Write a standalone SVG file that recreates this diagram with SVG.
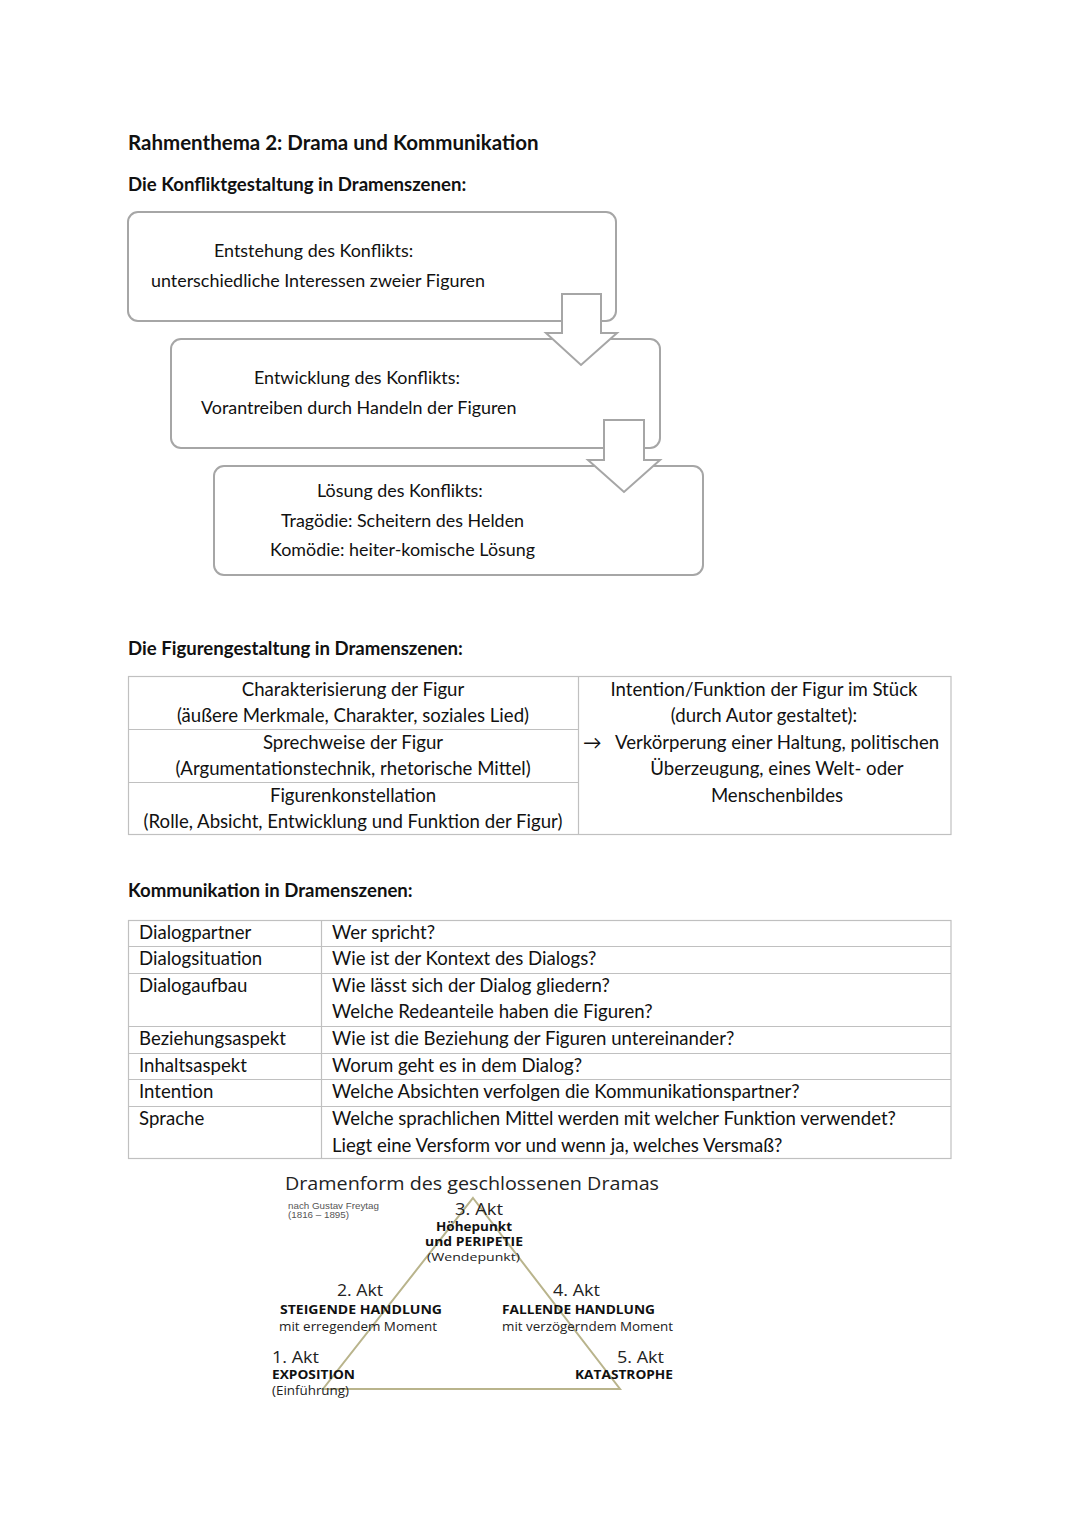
<svg xmlns="http://www.w3.org/2000/svg" width="1080" height="1527" viewBox="0 0 1080 1527">
<style>
.t{font-family:Lato,"Open Sans","Liberation Sans",sans-serif;font-size:18.6px;fill:#111}
.tb{font-family:Lato,"Open Sans","Liberation Sans",sans-serif;font-size:17.9px;fill:#111}
.h{font-family:Lato,"Open Sans","Liberation Sans",sans-serif;font-size:18.6px;font-weight:bold;fill:#111}
.h1{font-family:Lato,"Open Sans","Liberation Sans",sans-serif;font-size:20.5px;font-weight:bold;fill:#111}
.c{text-anchor:middle}
.box{fill:#fff;stroke:#a6a6a6;stroke-width:2}
.arr{fill:#fff;stroke:#a6a6a6;stroke-width:2;stroke-linejoin:miter}
.grid{stroke:#c0c0c0;stroke-width:1.2;fill:none}
.tri{fill:none;stroke:#b9b48c;stroke-width:2}
.d{font-family:"Open Sans","Liberation Sans",sans-serif;fill:#222}
.db{font-family:"Open Sans","Liberation Sans",sans-serif;font-weight:bold;fill:#111}
.ak{font-size:16px}
.s{font-size:12.5px}
.x{font-size:11.5px}
.sm{font-family:"Liberation Sans",Arial,sans-serif;font-size:9.8px;fill:#555}
</style>
<rect width="1080" height="1527" fill="#fff"/>
<text class="h1" x="128" y="150">Rahmenthema 2: Drama und Kommunikation</text>
<text class="h" x="128" y="191">Die Konfliktgestaltung in Dramenszenen:</text>

<g id="box1">
<rect class="box" x="128" y="212" width="488" height="109" rx="10"/>
<text class="tb" x="214" y="257">Entstehung des Konflikts:</text>
<text class="tb" x="151" y="287">unterschiedliche Interessen zweier Figuren</text>
</g>
<g id="box2">
<rect class="box" x="171" y="339" width="489" height="109" rx="10"/>
<text class="tb" x="254" y="384">Entwicklung des Konflikts:</text>
<text class="tb" x="201" y="414">Vorantreiben durch Handeln der Figuren</text>
</g>
<g id="box3">
<rect class="box" x="214" y="466" width="489" height="109" rx="10"/>
<text class="tb" x="317" y="497">Lösung des Konflikts:</text>
<text class="tb" x="281" y="527">Tragödie: Scheitern des Helden</text>
<text class="tb" x="270" y="556">Komödie: heiter-komische Lösung</text>
</g>
<g id="connectors">
<polygon class="arr" points="562,294 601,294 601,333 617,333 581,365 546,333 562,333"/>
<polygon class="arr" points="604,420 644,420 644,460 660,460 624,492 588,460 604,460"/>
</g>

<text class="h" x="128" y="655">Die Figurengestaltung in Dramenszenen:</text>
<g id="figuren-table">
<rect class="grid" x="128.5" y="676.5" width="822.5" height="158"/>
<line class="grid" x1="578.5" y1="676.5" x2="578.5" y2="834.5"/>
<line class="grid" x1="128.5" y1="729.5" x2="578.5" y2="729.5"/>
<line class="grid" x1="128.5" y1="782.5" x2="578.5" y2="782.5"/>
<text class="t c" x="353" y="696">Charakterisierung der Figur</text>
<text class="t c" x="353" y="722">(äußere Merkmale, Charakter, soziales Lied)</text>
<text class="t c" x="353" y="749">Sprechweise der Figur</text>
<text class="t c" x="353" y="775">(Argumentationstechnik, rhetorische Mittel)</text>
<text class="t c" x="353" y="802">Figurenkonstellation</text>
<text class="t c" x="353" y="828">(Rolle, Absicht, Entwicklung und Funktion der Figur)</text>
<text class="t c" x="764" y="696">Intention/Funktion der Figur im Stück</text>
<text class="t c" x="764" y="722">(durch Autor gestaltet):</text>
<text class="t" x="583" y="749" font-size="15">→</text>
<text class="t" x="615" y="749">Verkörperung einer Haltung, politischen</text>
<text class="t c" x="777" y="775">Überzeugung, eines Welt- oder</text>
<text class="t c" x="777" y="802">Menschenbildes</text>
</g>

<text class="h" x="128" y="897">Kommunikation in Dramenszenen:</text>
<g id="kommunikation-table">
<rect class="grid" x="128.5" y="920.5" width="822.5" height="238"/>
<line class="grid" x1="321.5" y1="920.5" x2="321.5" y2="1158.5"/>
<line class="grid" x1="128.5" y1="946.5" x2="951" y2="946.5"/>
<line class="grid" x1="128.5" y1="973.5" x2="951" y2="973.5"/>
<line class="grid" x1="128.5" y1="1026.5" x2="951" y2="1026.5"/>
<line class="grid" x1="128.5" y1="1053.5" x2="951" y2="1053.5"/>
<line class="grid" x1="128.5" y1="1079.5" x2="951" y2="1079.5"/>
<line class="grid" x1="128.5" y1="1106.5" x2="951" y2="1106.5"/>
<text class="t" x="139" y="939">Dialogpartner</text>
<text class="t" x="332" y="939">Wer spricht?</text>
<text class="t" x="139" y="965">Dialogsituation</text>
<text class="t" x="332" y="965">Wie ist der Kontext des Dialogs?</text>
<text class="t" x="139" y="992">Dialogaufbau</text>
<text class="t" x="332" y="992">Wie lässt sich der Dialog gliedern?</text>
<text class="t" x="332" y="1018">Welche Redeanteile haben die Figuren?</text>
<text class="t" x="139" y="1045">Beziehungsaspekt</text>
<text class="t" x="332" y="1045">Wie ist die Beziehung der Figuren untereinander?</text>
<text class="t" x="139" y="1072">Inhaltsaspekt</text>
<text class="t" x="332" y="1072">Worum geht es in dem Dialog?</text>
<text class="t" x="139" y="1098">Intention</text>
<text class="t" x="332" y="1098">Welche Absichten verfolgen die Kommunikationspartner?</text>
<text class="t" x="139" y="1125">Sprache</text>
<text class="t" x="332" y="1125">Welche sprachlichen Mittel werden mit welcher Funktion verwendet?</text>
<text class="t" x="332" y="1152">Liegt eine Versform vor und wenn ja, welches Versmaß?</text>
</g>

<g id="freytag">
<polygon class="tri" points="473,1198 620,1389 323,1389"/>
<text class="d" x="285" y="1190" font-size="17.5" textLength="374" lengthAdjust="spacingAndGlyphs">Dramenform des geschlossenen Dramas</text>
<text class="sm" x="288" y="1209">nach Gustav Freytag</text>
<text class="sm" x="288" y="1218">(1816 – 1895)</text>
<text class="d ak" x="455" y="1215" textLength="48" lengthAdjust="spacingAndGlyphs">3. Akt</text>
<text class="db x" x="436" y="1231" textLength="76" lengthAdjust="spacingAndGlyphs">Höhepunkt</text>
<text class="db x" x="425" y="1246" textLength="98" lengthAdjust="spacingAndGlyphs">und PERIPETIE</text>
<text class="d x" x="427" y="1261" textLength="93" lengthAdjust="spacingAndGlyphs">(Wendepunkt)</text>
<text class="d ak" x="337" y="1296" textLength="46" lengthAdjust="spacingAndGlyphs">2. Akt</text>
<text class="db s" x="280" y="1314" textLength="162" lengthAdjust="spacingAndGlyphs">STEIGENDE HANDLUNG</text>
<text class="d s" x="279" y="1331" textLength="158" lengthAdjust="spacingAndGlyphs">mit erregendem Moment</text>
<text class="d ak" x="553" y="1296" textLength="47" lengthAdjust="spacingAndGlyphs">4. Akt</text>
<text class="db s" x="502" y="1314" textLength="153" lengthAdjust="spacingAndGlyphs">FALLENDE HANDLUNG</text>
<text class="d s" x="502" y="1331" textLength="171" lengthAdjust="spacingAndGlyphs">mit verzögerndem Moment</text>
<text class="d ak" x="272" y="1363" textLength="47" lengthAdjust="spacingAndGlyphs">1. Akt</text>
<text class="db s" x="272" y="1379" textLength="83" lengthAdjust="spacingAndGlyphs">EXPOSITION</text>
<text class="d s" x="272" y="1395" textLength="77" lengthAdjust="spacingAndGlyphs">(Einführung)</text>
<text class="d ak" x="617" y="1363" textLength="47" lengthAdjust="spacingAndGlyphs">5. Akt</text>
<text class="db s" x="575" y="1379" textLength="98" lengthAdjust="spacingAndGlyphs">KATASTROPHE</text>
</g>
</svg>
